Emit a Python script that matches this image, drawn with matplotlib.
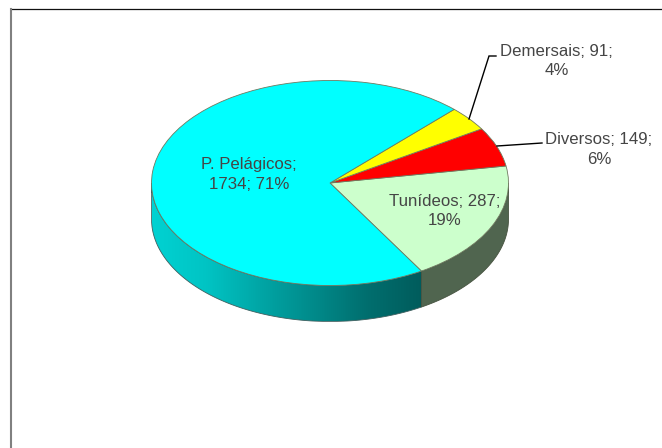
import numpy as np
import matplotlib as mpl
mpl.use("Agg")
import matplotlib.pyplot as plt
from matplotlib.colors import LinearSegmentedColormap
from matplotlib.patches import Polygon

plt.rcParams['font.family'] = ['Liberation Sans', 'DejaVu Sans']

# counter-clockwise from the Tunideos / Pelagicos edge
names = ["Tunídeos", "Diversos", "Demersais", "P. Pelágicos"]
counts = [287, 149, 91, 1734]
percents = [19, 6, 4, 71]
shares = [19.1, 6.2, 3.9, 70.8]
colors = ["#ccffcc", "#ff0000", "#ffff00", "#00ffff"]
wall_green = "#50654f"
wall_stops = ["#00d2d2", "#00c4c4", "#00a6a6", "#008a8a", "#006e6e", "#005c5c"]

W, H = 662, 448
cx, cy, rx, ry, depth = 330, 183, 178.5, 102.5, 36


def px(x, y):
    return (x - cx) / rx, (cy - y) / ry


fig = plt.figure(figsize=(W / 100, H / 100), dpi=100)
ax = fig.add_axes([0, 0, 1, 1])

wedges, _ = ax.pie(shares, colors=colors, startangle=-59.2, center=(0, 0), radius=1,
                   wedgeprops=dict(edgecolor="#6f7a60", linewidth=0.6), normalize=True)
ax.set_aspect("auto")
ax.set_frame_on(False)
for w in wedges:
    w.set_zorder(3)

d = depth / ry
split = np.radians(wedges[0].theta1)


def wall(t0, t1):
    t = np.linspace(t0, t1, 120)
    top = np.column_stack([np.cos(t), np.sin(t)])
    low = (top - [0, d])[::-1]
    return np.vstack([top, low])


cyan_wall = Polygon(wall(np.pi, 2 * np.pi + split), closed=True, facecolor="none",
                    edgecolor="#3f5f5f", linewidth=0.6, zorder=2)
ax.add_patch(cyan_wall)
cmap = LinearSegmentedColormap.from_list("wall", wall_stops)
im = ax.imshow(np.linspace(0, 1, 256)[None, :], cmap=cmap, aspect="auto", zorder=1,
               extent=[-1, np.cos(split), -1 - d, 0.2])
im.set_clip_path(cyan_wall)
ax.add_patch(Polygon(wall(split, 0), closed=True, facecolor=wall_green,
                     edgecolor="#46523f", linewidth=0.6, zorder=2))
ax.set_xlim(px(0, 0)[0], px(W, 0)[0])
ax.set_ylim(px(0, H)[1], px(0, 0)[1])

# leader lines
for xs, ys in [((469, 489, 496), (119, 56, 56)), ((497, 542), (146, 143))]:
    pts = [px(a, b) for a, b in zip(xs, ys)]
    ax.plot(*zip(*pts), color="black", lw=1.0, zorder=4, solid_joinstyle="miter")

# chart frame: black top, grey left
ax.plot(*zip(px(10.5, 9.5), px(W, 9.5)), color="#111111", lw=0.9, zorder=5)
ax.plot(*zip(px(10.5, 9), px(10.5, H)), color="#808080", lw=1.5, zorder=5)

# data labels
label_pos = {"Tunídeos": (445, 211), "Diversos": (599, 149.5),
             "Demersais": (556.5, 61), "P. Pelágicos": (249, 174.5)}
label_text = {"Tunídeos": "Tunídeos; {c};\n{p}%", "Diversos": "Diversos; {c};\n{p}%",
              "Demersais": "Demersais; {c};\n{p}%", "P. Pelágicos": "P. Pelágicos;\n{c}; {p}%"}
for n, c, p in zip(names, counts, percents):
    ax.text(*px(*label_pos[n]), label_text[n].format(c=c, p=p), ha="center", va="center",
            fontsize=12.1, color="#454545", linespacing=1.36, zorder=6)

fig.savefig("out.png", dpi=100)
